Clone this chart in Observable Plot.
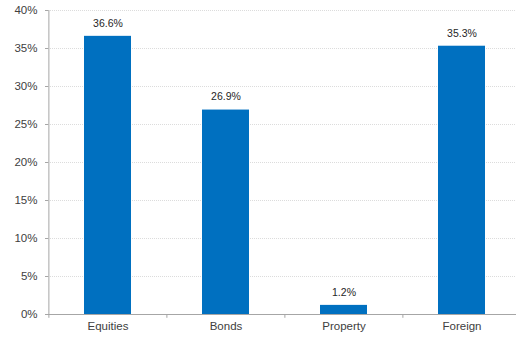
<!DOCTYPE html>
<html>
<head>
<meta charset="utf-8">
<script src="https://cdn.jsdelivr.net/npm/d3@7"></script>
<script src="https://cdn.jsdelivr.net/npm/@observablehq/plot@0.6"></script>
<style>
  html, body { margin: 0; padding: 0; background: #fff; }
  #chart svg { display: block; }
</style>
</head>
<body>
<div id="chart"></div>
<script>
const categories = ["Equities", "Bonds", "Property", "Foreign"];
const values = [0.366, 0.269, 0.012, 0.353];
const yTicks = [0, 0.05, 0.10, 0.15, 0.20, 0.25, 0.30, 0.35, 0.40];

const data = categories.map((c, i) => ({ category: c, value: values[i] }));

const xRange = [48, 521];
const step = (xRange[1] - xRange[0]) / categories.length;
const tickDrop = 0.005; // small overhang below the axis, in data units
const axisColor = "#a6a6a6";
const textColor = "#404040";

const chart = Plot.plot({
  width: 516,
  height: 337,
  marginTop: 10,
  marginBottom: 23,
  marginLeft: 48,
  marginRight: 0,
  style: { fontFamily: "Liberation Sans, Arial, sans-serif", background: "#fff" },
  x: { domain: categories, range: xRange, paddingInner: 0.6, paddingOuter: 0.3, label: null },
  y: { domain: [0, 0.4], label: null },
  marks: [
    Plot.gridY(yTicks.filter(d => d > 0), { stroke: "#dcdcdc", strokeOpacity: 1, strokeDasharray: "1,1" }),
    Plot.barY(data, { x: "category", y: "value", fill: "#0070c0" }),
    Plot.text(data, {
      x: "category", y: "value",
      text: d => (d.value * 100).toFixed(1) + "%",
      dy: -13, fill: "#262626", fontSize: 10.5
    }),
    // x axis line
    Plot.ruleY([0], { stroke: axisColor, strokeWidth: 1 }),
    // y axis line
    Plot.ruleX([categories[0]], { x: d => d, dx: -step / 2, y1: -tickDrop, y2: 0.4, stroke: axisColor }),
    // category boundary ticks
    Plot.ruleX(categories.slice(1), { x: d => d, dx: -step / 2, y1: -tickDrop, y2: 0, stroke: axisColor }),
    Plot.axisY({
      ticks: yTicks, tickFormat: d => Math.round(d * 100) + "%",
      tickSize: 3, tickPadding: 8, stroke: axisColor, fill: textColor, fontSize: 11.5
    }),
    Plot.axisX({ tickSize: 0, tickPadding: 7, fill: textColor, fontSize: 11.5 })
  ]
});

document.getElementById("chart").appendChild(chart);
</script>
</body>
</html>
